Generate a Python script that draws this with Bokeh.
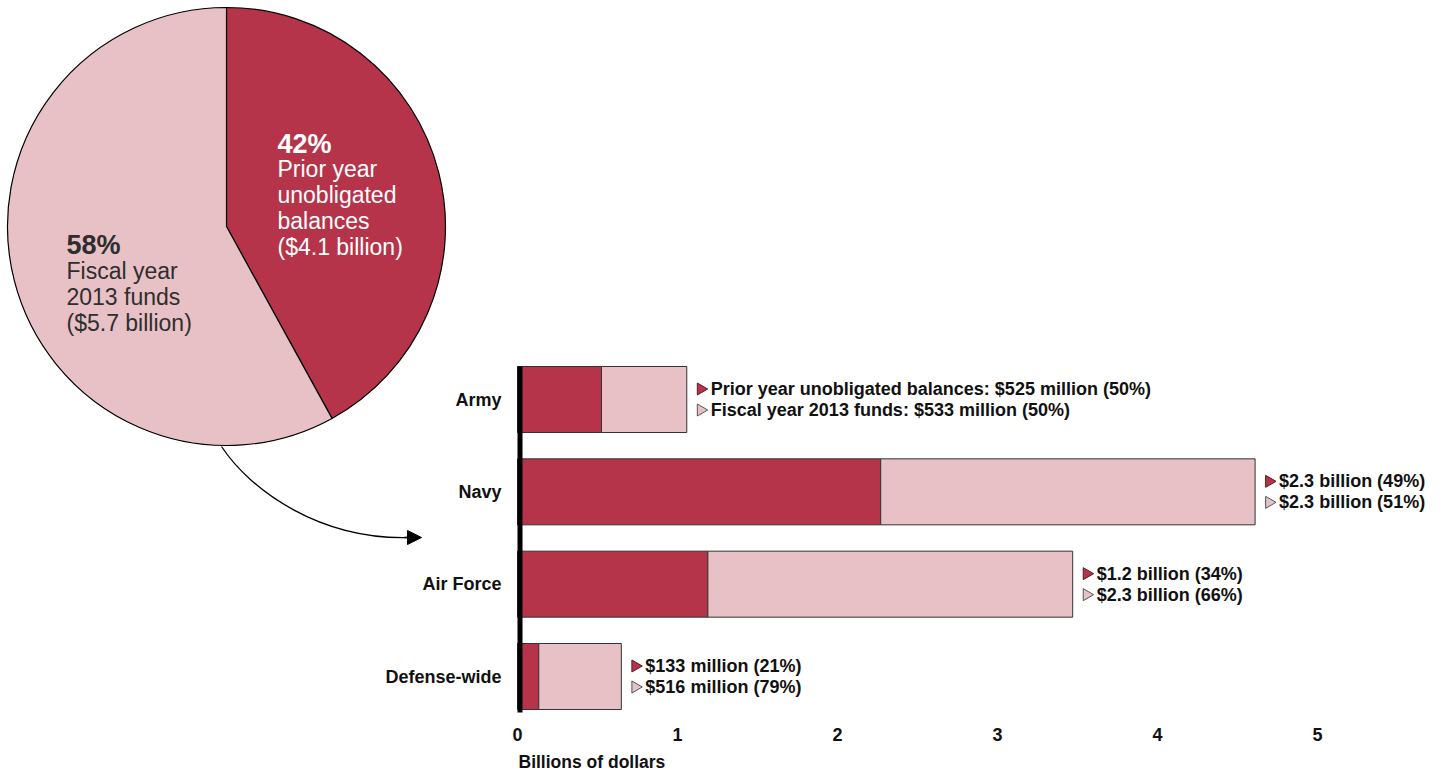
import math
from bokeh.plotting import figure
from bokeh.models import Range1d, FixedTicker, Arrow, NormalHead, Title
from bokeh.core.properties import value
from bokeh.embed import file_html
from bokeh.resources import INLINE

# ---------------- data ----------------
categories = ["Army", "Navy", "Air Force", "Defense-wide"]
prior_year = [0.525, 2.27, 1.19, 0.133]      # billions of dollars
fy2013 = [0.533, 2.34, 2.28, 0.516]          # billions of dollars
prior_labels = ["Prior year unobligated balances: $525 million (50%)",
                "$2.3 billion (49%)", "$1.2 billion (34%)", "$133 million (21%)"]
fy_labels = ["Fiscal year 2013 funds: $533 million (50%)",
             "$2.3 billion (51%)", "$2.3 billion (66%)", "$516 million (79%)"]
x_ticks = [0, 1, 2, 3, 4, 5]
x_title = "Billions of dollars"

pie_shares = [42, 58]
pie_pct = ["42%", "58%"]
pie_desc = [["Prior year", "unobligated", "balances", "($4.1 billion)"],
            ["Fiscal year", "2013 funds", "($5.7 billion)"]]

# ---------------- style ----------------
DARK = "#B5344A"
LIGHT = "#E8C1C6"
EDGE = "#333333"
FONT = "Liberation Sans"
TXT = "#111111"

FW, FH = 1440, 720   # frame size in px
PXU = 160.0          # pixels per billion
X0 = 517             # frame px of value 0
PYU = 92.33          # pixels per category step
Y0 = 44              # frame px from bottom to last category

x_range = Range1d(-X0 / PXU, (FW - X0) / PXU)
y_range = Range1d(-Y0 / PYU, (FH - Y0) / PYU)

p = figure(frame_width=FW, frame_height=FH, x_range=x_range, y_range=y_range,
           output_backend="svg", toolbar_location=None, y_axis_location=None,
           min_border_left=0, min_border_right=0, min_border_top=0,
           min_border_bottom=0)
p.outline_line_color = None
p.grid.visible = False
p.background_fill_color = "white"
p.border_fill_color = "white"

# pixel ranges for the pie and connector (frame px, y negated)
p.extra_x_ranges = {"px": Range1d(0, FW)}
p.extra_y_ranges = {"px": Range1d(-FH, 0)}

# x axis
ax = p.xaxis[0]
ax.ticker = FixedTicker(ticks=x_ticks)
ax.axis_line_color = None
ax.major_tick_line_color = None
ax.minor_tick_line_color = None
ax.major_tick_out = 0
ax.major_tick_in = 0
ax.major_label_standoff = 7
ax.major_label_text_font = FONT
ax.major_label_text_font_style = "bold"
ax.major_label_text_font_size = "18px"
ax.major_label_text_color = TXT

p.add_layout(Title(text=x_title, align="left", offset=X0 + 1, standoff=12,
                   text_font=FONT, text_font_style="bold",
                   text_font_size="17.5px", text_color=TXT), "below")

# ---------------- bars ----------------
n = len(categories)
ypos = [n - 1 - i for i in range(n)]
totals = [a + b for a, b in zip(prior_year, fy2013)]
bar_h = 66 / PYU

p.hbar(y=ypos, left=0, right=prior_year, height=bar_h,
       fill_color=DARK, line_color=EDGE, line_width=1)
p.hbar(y=ypos, left=prior_year, right=totals, height=bar_h,
       fill_color=LIGHT, line_color=EDGE, line_width=1)

# thick baseline
p.quad(left=[0], right=[5 / PXU], bottom=[-bar_h / 2 - 3 / PYU],
       top=[max(ypos) + bar_h / 2], fill_color="black", line_color=None)

# category labels
p.text(x=[0] * n, y=ypos, text=categories, x_offset=-16,
       text_align="right", text_baseline="middle",
       text_font=value(FONT), text_font_style="bold",
       text_font_size="18px", text_color=TXT)

# value annotations
dy = 10.5 / PYU
tri_x = [t + 14 / PXU for t in totals]
p.scatter(x=tri_x, y=[y + dy for y in ypos], marker="triangle", size=12,
          angle=-math.pi / 2, fill_color=DARK, line_color="#5a1a24", line_width=1)
p.scatter(x=tri_x, y=[y - dy for y in ypos], marker="triangle", size=12,
          angle=-math.pi / 2, fill_color=LIGHT, line_color="#555555", line_width=1)
p.text(x=totals, y=ypos, text=prior_labels, x_offset=24, y_offset=-10.5,
       text_baseline="middle", text_font=value(FONT), text_font_style="bold",
       text_font_size="18px", text_color=TXT)
p.text(x=totals, y=ypos, text=fy_labels, x_offset=24, y_offset=10.5,
       text_baseline="middle", text_font=value(FONT), text_font_style="bold",
       text_font_size="18px", text_color=TXT)

# ---------------- pie ----------------
CX, CY, R = 226, -226, 219
total_share = sum(pie_shares)
a_top = math.pi / 2
dark_span = pie_shares[0] / total_share * 2 * math.pi
p.wedge(x=[CX], y=[CY], radius=R, start_angle=[a_top - dark_span], end_angle=[a_top],
        direction="anticlock", fill_color=DARK, line_color="black", line_width=1.2,
        x_range_name="px", y_range_name="px")
p.wedge(x=[CX], y=[CY], radius=R, start_angle=[a_top], end_angle=[a_top - dark_span + 2 * math.pi],
        direction="anticlock", fill_color=LIGHT, line_color="black", line_width=1.2,
        x_range_name="px", y_range_name="px")

# pie labels
lab_pos = [(277, -143, "white", 168), (66, -244, "#2e2e2e", 270)]
for k in range(2):
    lx, ly, col, first = lab_pos[k]
    p.text(x=[lx], y=[ly], text=[pie_pct[k]], text_baseline="alphabetic",
           text_font=value(FONT), text_font_style="bold", text_font_size="27px",
           text_color=col, x_range_name="px", y_range_name="px")
    lines = pie_desc[k]
    p.text(x=[lx] * len(lines), y=[-first - 26 * i for i in range(len(lines))],
           text=lines, text_baseline="alphabetic",
           text_font=value(FONT), text_font_size="23px", text_color=col,
           x_range_name="px", y_range_name="px")

# connector arrow
p.bezier(x0=[221], y0=[-446], x1=[410], y1=[-537], cx0=[250], cy0=[-490],
         cx1=[320], cy1=[-540], line_color="black", line_width=1.3,
         x_range_name="px", y_range_name="px")
p.add_layout(Arrow(x_start=404, y_start=-537, x_end=421, y_end=-537,
                   line_color="black", line_width=1.3,
                   end=NormalHead(size=14, fill_color="black", line_color="black"),
                   x_range_name="px", y_range_name="px"))

open("out.html", "w").write(file_html(p, INLINE))
